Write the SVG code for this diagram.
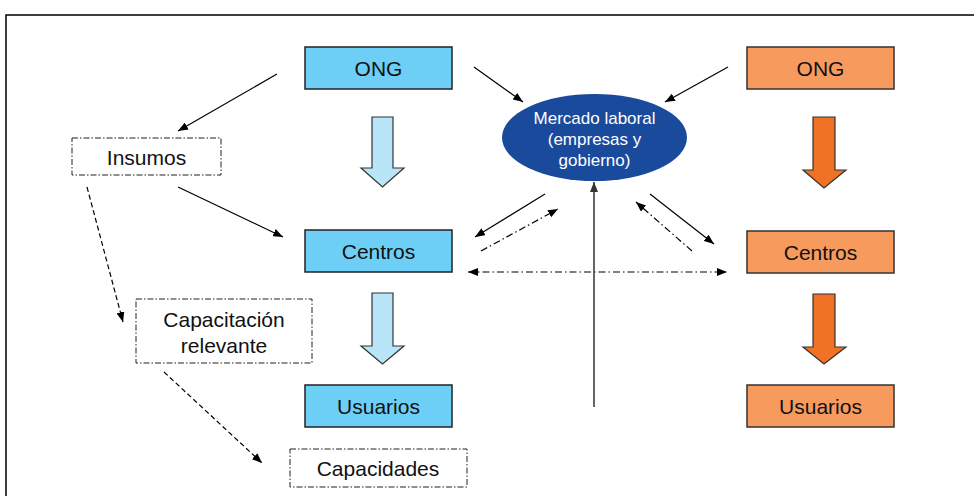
<svg xmlns="http://www.w3.org/2000/svg" width="974" height="496" viewBox="0 0 974 496">
<defs>
<marker id="ah" markerWidth="10" markerHeight="8" refX="10" refY="4" orient="auto" markerUnits="userSpaceOnUse">
<path d="M0,0 L10,4 L0,8 Z" fill="#000"/>
</marker>
<marker id="ahs" markerWidth="10" markerHeight="8" refX="0" refY="4" orient="auto" markerUnits="userSpaceOnUse">
<path d="M10,0 L0,4 L10,8 Z" fill="#000"/>
</marker>
<marker id="ahg" markerWidth="10" markerHeight="8" refX="10" refY="4" orient="auto" markerUnits="userSpaceOnUse">
<path d="M0,0 L10,4 L0,8 Z" fill="#333"/>
</marker>
</defs>
<style>
text{font-family:"Liberation Sans",Arial,sans-serif;fill:#111;text-anchor:middle}
.lbl{font-size:21px}
.ell{font-size:17px;fill:#fff}
.bb{fill:#6DCFF6;stroke:#222;stroke-width:1.5}
.ob{fill:#F79A5E;stroke:#333;stroke-width:1.5}
.ba{fill:#B9E5F9;stroke:#333;stroke-width:1.2}
.oa{fill:#F07224;stroke:#333;stroke-width:1.2}
.db{fill:#fff;stroke:#222;stroke-width:1;stroke-dasharray:6 2 1.5 2}
.sl{stroke:#000;stroke-width:1.2;fill:none}
.dd{stroke:#000;stroke-width:1.2;fill:none;stroke-dasharray:7 3 1.5 3}
.da{stroke:#000;stroke-width:1.2;fill:none;stroke-dasharray:5 3}
</style>
<rect x="6" y="15" width="990" height="500" fill="#fff" stroke="#000" stroke-width="1.5"/>

<g id="connectors">
<line class="sl" x1="277" y1="74" x2="178" y2="131" marker-end="url(#ah)"/>
<line class="sl" x1="178" y1="187" x2="283" y2="237" marker-end="url(#ah)"/>
<line class="da" x1="87" y1="187" x2="123" y2="322" marker-end="url(#ah)"/>
<line class="da" x1="164" y1="372" x2="262" y2="463" marker-end="url(#ah)"/>
<line class="sl" x1="474" y1="67" x2="523" y2="102" marker-end="url(#ah)"/>
<line class="sl" x1="728" y1="67" x2="665" y2="102" marker-end="url(#ah)"/>
<line class="sl" x1="545" y1="194" x2="475" y2="237" marker-end="url(#ah)"/>
<line class="dd" x1="481" y1="251" x2="558" y2="209" marker-end="url(#ah)"/>
<line class="sl" x1="650" y1="194" x2="714" y2="244" marker-end="url(#ah)"/>
<line class="dd" x1="692" y1="251" x2="636" y2="202" marker-end="url(#ah)"/>
<line class="dd" x1="468" y1="272" x2="727" y2="272" marker-start="url(#ahs)" marker-end="url(#ah)"/>
<line x1="594" y1="407" x2="594" y2="182" stroke="#333" stroke-width="1.5" marker-end="url(#ahg)"/>
<path id="arrow-b1" class="ba" d="M372,117 H393 V168 H404 L382.5,187 L361,168 H372 Z"/>
<path id="arrow-b2" class="ba" d="M372,293 H393 V346 H404 L382.5,364 L361,346 H372 Z"/>
<path id="arrow-o1" class="oa" d="M813,117 H835 V170 H846 L824,188 L803,170 H813 Z"/>
<path id="arrow-o2" class="oa" d="M813,294 H835 V347 H846 L824,364 L803,347 H813 Z"/>
</g>

<g id="ong-blue"><rect class="bb" x="305" y="47" width="147" height="42"/><text class="lbl" x="378.5" y="75.5">ONG</text></g>
<g id="centros-blue"><rect class="bb" x="305" y="230" width="147" height="42"/><text class="lbl" x="378.5" y="258.5">Centros</text></g>
<g id="usuarios-blue"><rect class="bb" x="305" y="385" width="147" height="42"/><text class="lbl" x="378.5" y="413.5">Usuarios</text></g>

<g id="ong-orange"><rect class="ob" x="747" y="47" width="147" height="42"/><text class="lbl" x="820.5" y="75.5">ONG</text></g>
<g id="centros-orange"><rect class="ob" x="747" y="231" width="147" height="42"/><text class="lbl" x="820.5" y="259.5">Centros</text></g>
<g id="usuarios-orange"><rect class="ob" x="747" y="385" width="147" height="42"/><text class="lbl" x="820.5" y="413.5">Usuarios</text></g>

<g id="mercado"><ellipse cx="594.5" cy="137.5" rx="92.5" ry="43.5" fill="#1A4A9C"/>
<text class="ell" x="594.5" y="124">Mercado laboral</text>
<text class="ell" x="594.5" y="145">(empresas y</text>
<text class="ell" x="594.5" y="166">gobierno)</text></g>

<g id="insumos"><rect class="db" x="72" y="138" width="149" height="37"/><text class="lbl" x="146.5" y="164.5">Insumos</text></g>
<g id="capacitacion"><rect class="db" x="136" y="299" width="176" height="64"/><text class="lbl" x="224" y="326.5">Capacitación</text><text class="lbl" x="224" y="352.5">relevante</text></g>
<g id="capacidades"><rect class="db" x="290" y="449" width="177" height="38"/><text class="lbl" x="378" y="475.5">Capacidades</text></g>
</svg>
